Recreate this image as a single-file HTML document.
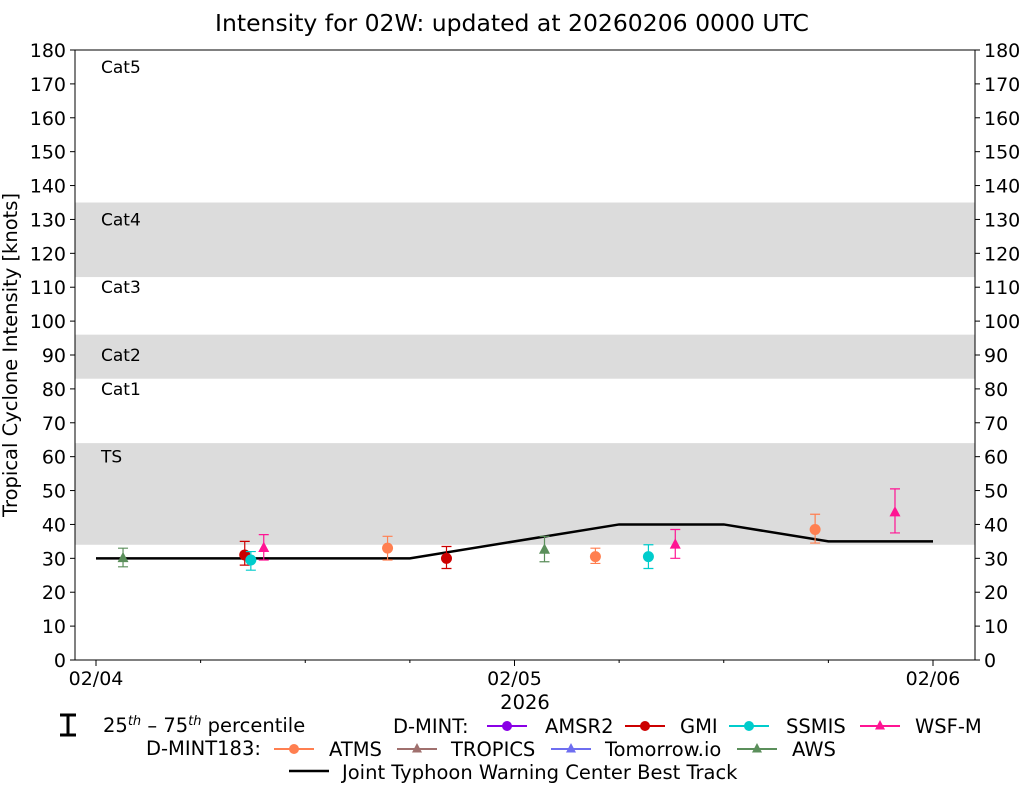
<!DOCTYPE html>
<html><head><meta charset="utf-8"><style>
body{margin:0;background:#fff;}
svg{font-family:"DejaVu Sans","Liberation Sans",sans-serif;}
</style></head><body>
<svg id="c" width="1025" height="785" xmlns="http://www.w3.org/2000/svg">
<text x="512" y="31" font-size="23.5" text-anchor="middle">Intensity for 02W: updated at 20260206 0000 UTC</text>
<g id="bands"></g><g id="axes"></g><g id="marks"></g>
<text transform="translate(17,355) rotate(-90)" font-size="19.5" text-anchor="middle">Tropical Cyclone Intensity [knots]</text>
<text x="525" y="709" font-size="19.5" text-anchor="middle">2026</text>
<g id="legend" font-size="19.5">
<path d="M60 715h16M68 715v20M60 735h16" stroke="#000" stroke-width="3" fill="none"/>
<text x="103" y="732">25<tspan font-size="13" dy="-7" font-style="italic">th</tspan><tspan dy="7"> – 75</tspan><tspan font-size="13" dy="-7" font-style="italic">th</tspan><tspan dy="7"> percentile</tspan></text>
<text x="393" y="733">D-MINT:</text>
<text x="146" y="755">D-MINT183:</text>
<path d="M289 771h40" stroke="#000" stroke-width="2.5"/>
<text x="342" y="779">Joint Typhoon Warning Center Best Track</text>
</g>
</svg>
<script>
const yTicks=[0,10,20,30,40,50,60,70,80,90,100,110,120,130,140,150,160,170,180];
const xTickHours=[0,24,48];
const xTickLabels=["02/04","02/05","02/06"];
const bandRanges=[[34,64],[83,96],[113,135]];
const catLabels=["TS","Cat1","Cat2","Cat3","Cat4","Cat5"];
const catValues=[60,80,90,110,130,175];
const btHours=[0,18,30,36,42,48];
const btValues=[30,30,40,40,35,35];
const obsSensor=["AWS","GMI","SSMIS","WSF-M","ATMS","GMI","AWS","ATMS","SSMIS","WSF-M","ATMS","WSF-M"];
const obsHours=[1.55,8.53,8.88,9.62,16.72,20.1,25.72,28.64,31.68,33.22,41.24,45.82];
const obsValues=[30,31,29.5,33,33,30,32.5,30.5,30.5,34,38.5,43.5];
const obsLow=[27.5,28,26.5,29.5,29.5,27,29,28.5,27,30,34.5,37.5];
const obsHigh=[33,35,32,37,36.5,33.5,36.5,33,34,38.5,43,50.5];
const legendNames=["AMSR2","GMI","SSMIS","WSF-M","ATMS","TROPICS","Tomorrow.io","AWS"];
const NS="http://www.w3.org/2000/svg";
const col={AMSR2:"#8a00e6",GMI:"#cc0000",SSMIS:"#00cccc","WSF-M":"#ff1493",ATMS:"#ff7f50",TROPICS:"#a0706e","Tomorrow.io":"#6e6ef0",AWS:"#5b8f5b"};
const tri={AMSR2:0,GMI:0,SSMIS:0,"WSF-M":1,ATMS:0,TROPICS:1,"Tomorrow.io":1,AWS:1};
const L=75,R=975,T=50,B=660;
const x=h=>96+h*(933-96)/48;
const y=v=>B-v*(B-T)/180;
function el(p,tag,a){const e=document.createElementNS(NS,tag);for(const k in a)e.setAttribute(k,a[k]);(typeof p==="string"?document.getElementById(p):p).appendChild(e);return e;}
function marker(g,s,cx,cy,r){
 if(tri[s]) return el(g,"polygon",{points:`${cx},${cy-r-1} ${cx-r},${cy+r*0.7} ${cx+r},${cy+r*0.7}`,fill:col[s]});
 return el(g,"circle",{cx:cx,cy:cy,r:r,fill:col[s]});
}
bandRanges.forEach(b=>{const r=el("bands","rect",{x:L,y:y(b[1]),width:R-L,height:y(b[0])-y(b[1]),fill:"#dcdcdc"});

});
catLabels.forEach((c,i)=>{const t=el("bands","text",{x:101,y:y(catValues[i])+6,"font-size":17});t.textContent=c;

});
el("axes","rect",{x:L,y:T,width:R-L,height:B-T,fill:"none",stroke:"#000","stroke-width":1});
yTicks.forEach(v=>{
 el("axes","line",{x1:L-5,x2:L,y1:y(v),y2:y(v),stroke:"#000"});
 el("axes","line",{x1:R,x2:R+5,y1:y(v),y2:y(v),stroke:"#000"});
 const a=el("axes","text",{x:L-9,y:y(v)+7,"font-size":19,"text-anchor":"end"});a.textContent=v;
 
 
 const b=el("axes","text",{x:R+9,y:y(v)+7,"font-size":19});b.textContent=v;
 
 
});
for(let h=0;h<=48;h+=6){el("axes","line",{x1:x(h),x2:x(h),y1:B,y2:B+(h%24?3:6),stroke:"#000"});}
xTickHours.forEach((h,i)=>{const t=el("axes","text",{x:x(h),y:B+25,"font-size":19,"text-anchor":"middle"});t.textContent=xTickLabels[i];

});
const bt=el("marks","polyline",{points:btHours.map((h,i)=>x(h)+","+y(btValues[i])).join(" "),fill:"none",stroke:"#000","stroke-width":2.5});


obsSensor.forEach((s,i)=>{
 const g=el("marks","g",{});
 
 
 const cx=x(obsHours[i]);
 el(g,"path",{d:`M${cx-5} ${y(obsHigh[i])}h10M${cx} ${y(obsHigh[i])}V${y(obsLow[i])}M${cx-5} ${y(obsLow[i])}h10`,stroke:col[s],"stroke-width":1.2,fill:"none"});
 marker(g,s,cx,y(obsValues[i]),5.5);
});
const lpos=[[487,545,726],[625,680,726],[729,786,726],[860,915,726],[274,329,749],[397,451,749],[551,605,749],[737,792,749]];
legendNames.forEach((s,i)=>{
 const g=el("legend","g",{});
 
 
 const [lx,tx,ly]=lpos[i];
 el(g,"line",{x1:lx,x2:lx+40,y1:ly,y2:ly,stroke:col[s],"stroke-width":2});
 marker(g,s,lx+20,ly,5);
 const t=el(g,"text",{x:tx,y:ly+7,"font-size":19.5});t.textContent=s;
});
</script>
</body></html>
